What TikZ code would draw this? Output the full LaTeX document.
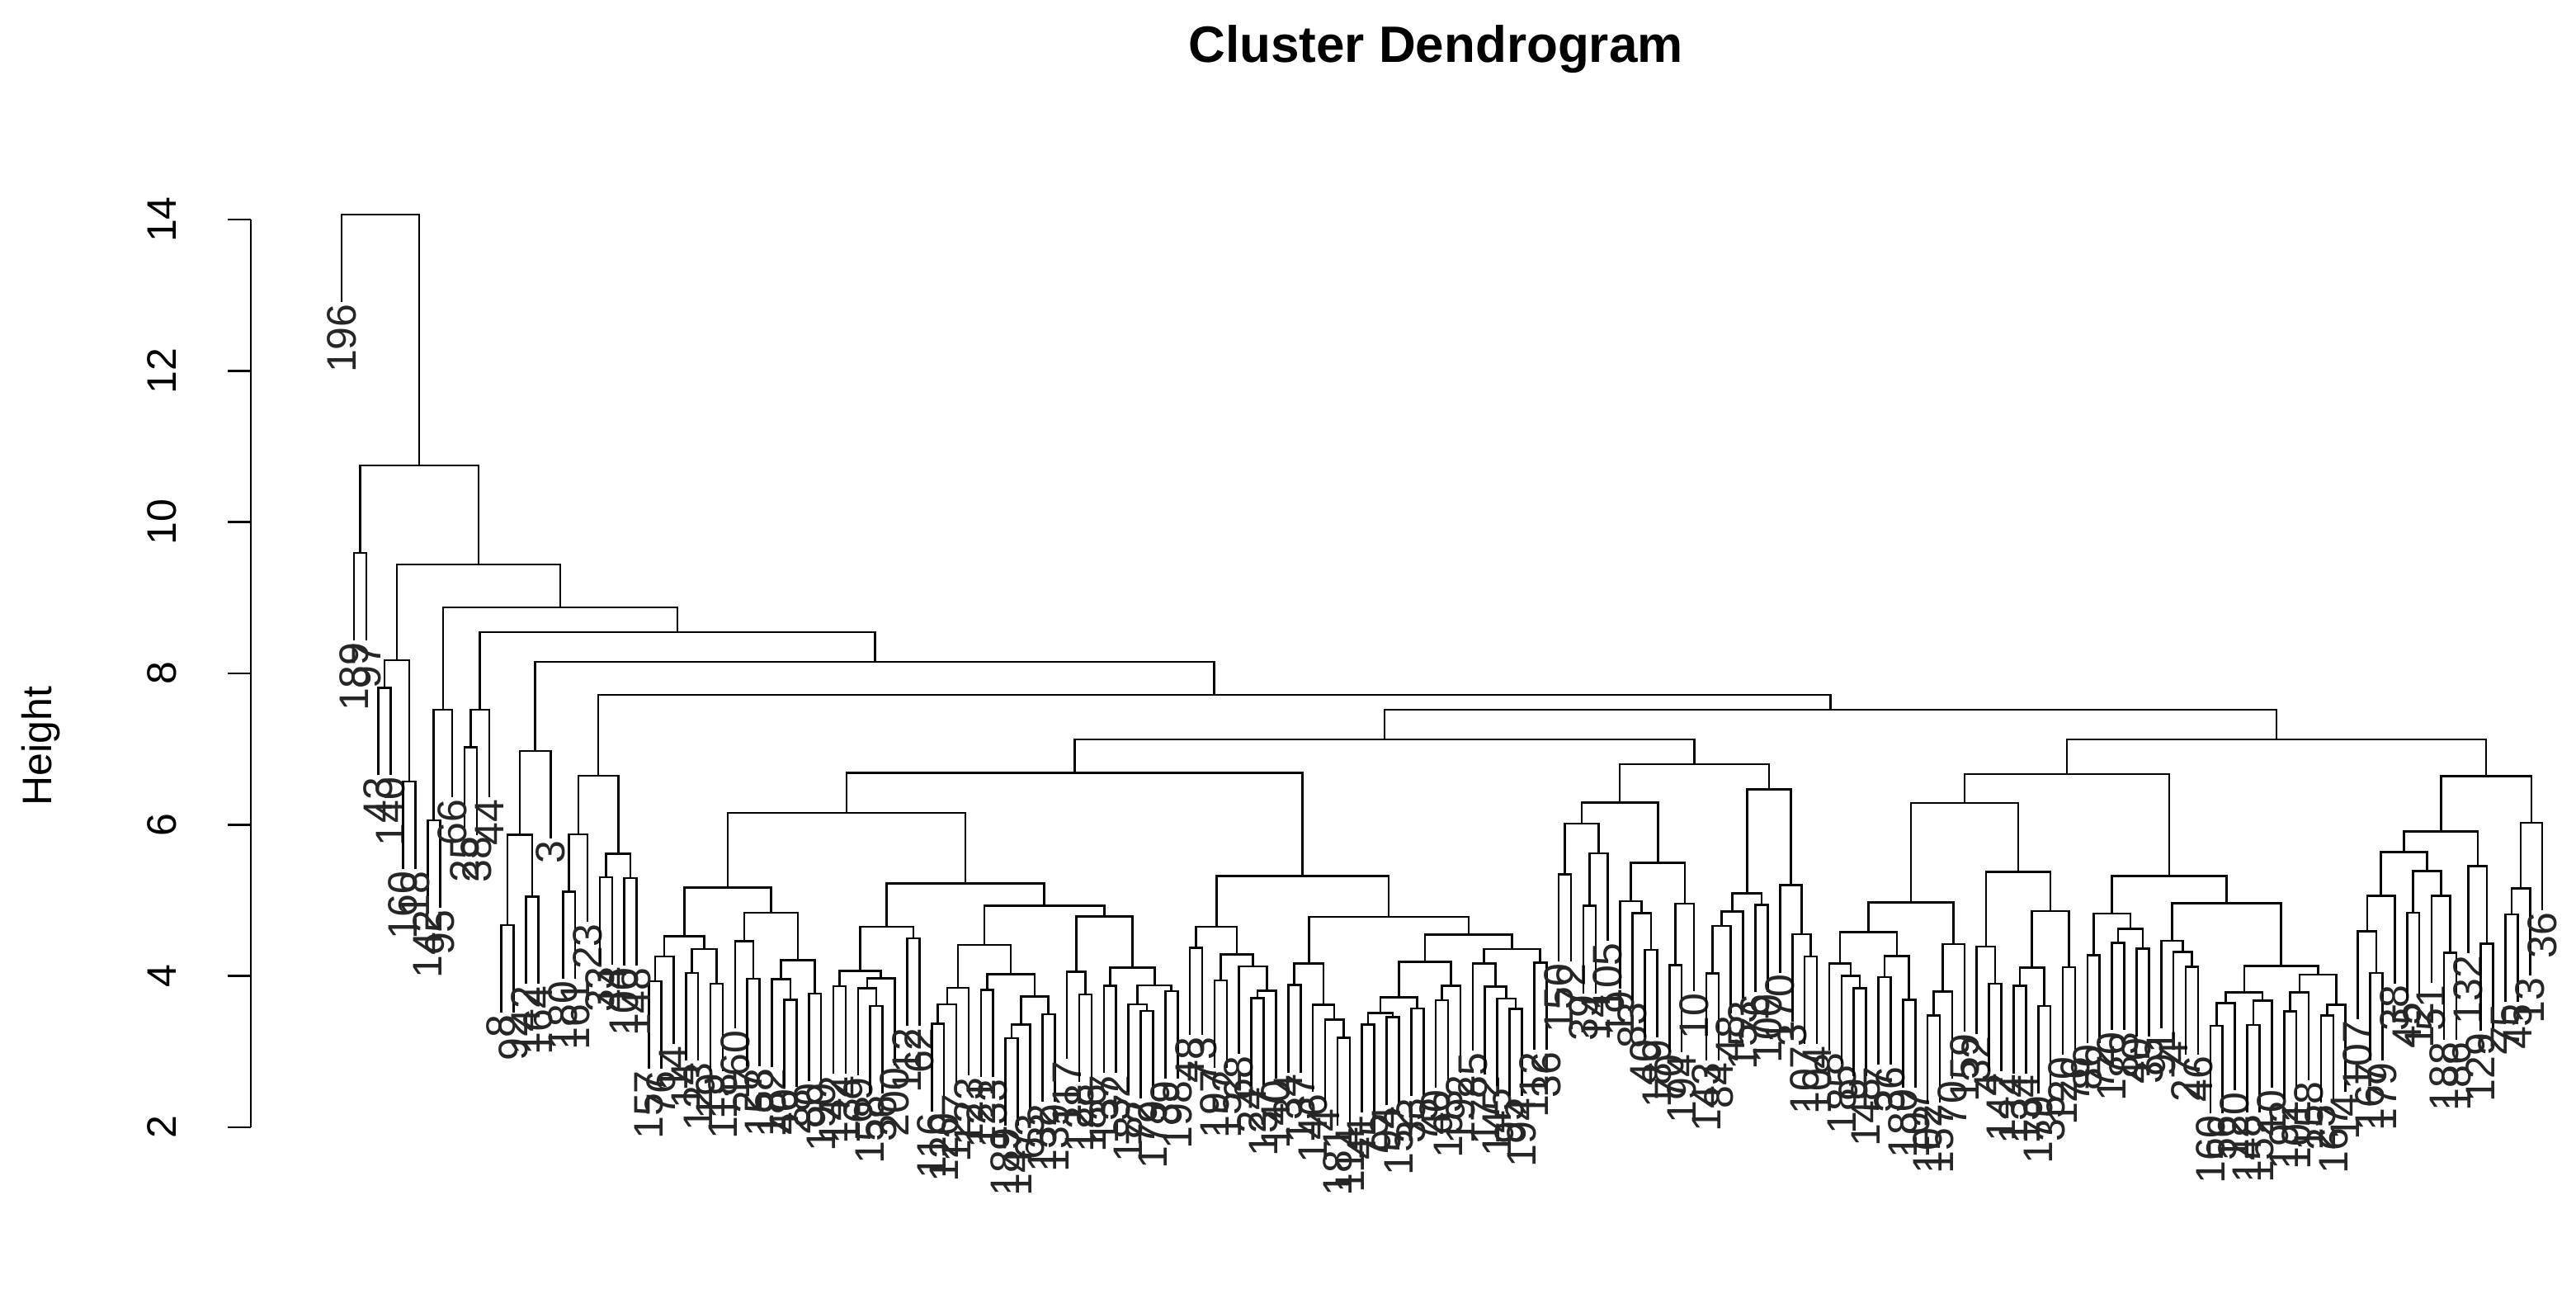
\documentclass[tikz,border=0pt]{standalone}
\usepackage{fontspec}
\setmainfont{Liberation Sans}
\newcommand\dsub[3]{%
 \ifnum#2=1
   \pgfmathsetmacro\xc{207+7.45*#1}%
   \pgfmathrandominteger\lb{1}{200}%
   \node[lab] (leaf#1) at (\xc,#3) {\lb};%
   \xdef\retx{\xc}%
 \else
   \pgfmathsetmacro\f{0.2+0.6*rnd}%
   \pgfmathtruncatemacro\nL{max(1,min(#2-1,round(#2*\f)))}%
   \pgfmathtruncatemacro\nR{#2-\nL}%
   \pgfmathtruncatemacro\iR{#1+\nL}%
   \pgfmathsetmacro\gL{0.06+0.32*rnd}%
   \pgfmathsetmacro\gR{0.06+0.32*rnd}%
   \pgfmathsetmacro\yL{ifthenelse(\nL==1,#3+53,#3+(650-#3)*\gL)}%
   \pgfmathsetmacro\yR{ifthenelse(\nR==1,#3+53,#3+(650-#3)*\gR)}%
   \begingroup\edef\dnext{\noexpand\dsub{#1}{\nL}{\yL}}\dnext\endgroup\let\xL\retx
   \begingroup\edef\dnext{\noexpand\dsub{\iR}{\nR}{\yR}}\dnext\endgroup\let\xR\retx
   \draw[br] (\xL,\yL) -- (\xL,#3) -- (\xR,#3) -- (\xR,\yR);%
   \pgfmathsetmacro\xc{(\xL+\xR)/2}%
   \xdef\retx{\xc}%
 \fi}
\newcommand\sub[4]{\begingroup\dsub{#1}{#2}{#3}\endgroup\expandafter\let\csname #4\endcsname\retx}
\newcommand\U[6]{%
 \edef\ua{\csname#1\endcsname}\edef\ub{\csname#3\endcsname}%
 \draw[br] (\ua,#2) -- (\ua,#5) -- (\ub,#5) -- (\ub,#4);%
 \pgfmathsetmacro\tmp{(\ua+\ub)/2}\expandafter\let\csname#6\endcsname\tmp}
\begin{document}
\begin{tikzpicture}[x=1pt,y=-1pt,
 lab/.style={rotate=90,anchor=east,inner sep=1pt,text=black!85,font=\fontsize{25}{25}\selectfont},
 br/.style={line width=1.3pt},
 tick/.style={rotate=90,font=\fontsize{25}{25}\selectfont}]
\useasboundingbox (0,0) rectangle (1561,784);
\pgfmathsetseed{7}
\node[font=\bfseries\fontsize{31}{31}\selectfont] (title) at (870,30) {Cluster Dendrogram};
\node[rotate=90,font=\fontsize{25}{25}\selectfont] (ylab) at (25,452) {Height};
\draw[line width=1.3pt] (152,133) -- (152,683);
\foreach \h in {2,4,...,14}{
  \pgfmathsetmacro\yy{683-(\h-2)*45.83}
  \draw[line width=1.3pt] (152,\yy) -- (138,\yy);
  \node[tick] (t\h) at (98,\yy) {\h};
}
\sub{121}{59}{448}{Rviii}
\sub{25}{96}{448}{Lviii}
\U{Lviii}{448}{Rviii}{448}{430}{Nviii}
\sub{18}{7}{470}{Lvii}
\U{Lvii}{470}{Nviii}{430}{421}{Nvii}
\sub{13}{5}{455}{Lvi}
\U{Lvi}{455}{Nvii}{421}{401}{Nvi}
\sub{10}{3}{430}{Lv}
\U{Lv}{430}{Nvi}{401}{383}{Nv}
\sub{7}{3}{430}{Liv}
\U{Liv}{430}{Nv}{383}{368}{Niv}
\sub{3}{4}{400}{Liii}
\U{Liii}{400}{Niv}{368}{342}{Niii}
\sub{1}{2}{335}{Lii}
\U{Lii}{335}{Niii}{342}{282}{Nii}
\sub{0}{1}{183}{Li}
\U{Li}{183}{Nii}{282}{130}{Ni}
\end{tikzpicture}
\end{document}
